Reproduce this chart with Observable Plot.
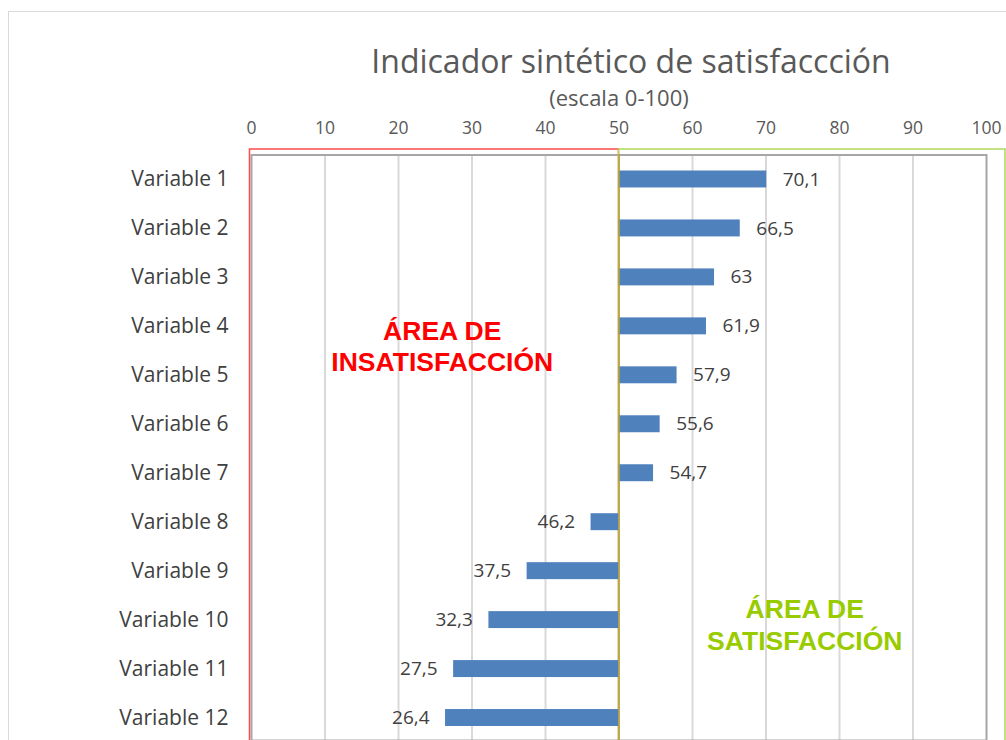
<!DOCTYPE html>
<html>
<head>
<meta charset="utf-8">
<script src="https://cdn.jsdelivr.net/npm/d3@7"></script>
<script src="https://cdn.jsdelivr.net/npm/@observablehq/plot@0.6"></script>
<style>
  html, body { margin: 0; padding: 0; background: #fff; }
  body { width: 1006px; height: 740px; overflow: hidden; position: relative; font-family: "Open Sans", sans-serif; }
  #border { position: absolute; left: 8px; top: 11px; width: 1100px; height: 800px; border: 1px solid #d9d9d9; }
  #title { position: absolute; left: 131px; top: 37px; width: 1000px; text-align: center; font-size: 32px; line-height: 48px; color: #595959; }
  #subtitle { position: absolute; left: 119px; top: 81px; width: 1000px; text-align: center; font-size: 22px; line-height: 32px; color: #595959; }
  #chart { position: absolute; left: 0; top: 110px; }
</style>
</head>
<body>
<div id="border"></div>
<div id="title">Indicador sintético de satisfaccción</div>
<div id="subtitle">(escala 0-100)</div>
<div id="chart"></div>
<script>
const variables = ["Variable 1","Variable 2","Variable 3","Variable 4","Variable 5","Variable 6","Variable 7","Variable 8","Variable 9","Variable 10","Variable 11","Variable 12"];
const values = [70.1, 66.5, 63, 61.9, 57.9, 55.6, 54.7, 46.2, 37.5, 32.3, 27.5, 26.4];
const xTicks = [0, 10, 20, 30, 40, 50, 60, 70, 80, 90, 100];
const baseline = 50;
const areaNames = ["ÁREA DE\nINSATISFACCIÓN", "ÁREA DE\nSATISFACCIÓN"];
const areaFrom = [0, 50];
const areaTo = [50, 100];
const areaRows = ["Variable 4", "Variable 10"];

const data = variables.map((name, i) => ({name, value: values[i]}));
const areas = areaNames.map((label, i) => ({label, from: areaFrom[i], to: areaTo[i], row: areaRows[i]}));
const fmt = v => String(v).replace(".", ",");

const chart = Plot.plot({
  width: 1006,
  height: 630,
  marginTop: 44.5,
  marginLeft: 251,
  marginRight: 20,
  marginBottom: 0,
  style: {fontFamily: "'Open Sans', sans-serif", background: "transparent", overflow: "visible"},
  x: {domain: [0, 100], range: [251, 986], label: null},
  y: {domain: variables, range: [44.5, 632], padding: 0, round: false, label: null},
  marks: [
    Plot.gridX(xTicks.filter(t => t > 0 && t < 100), {stroke: "#d9d9d9", strokeOpacity: 1, strokeWidth: 2}),
    Plot.frame({stroke: "#a6a6a6", strokeWidth: 2}),
    Plot.rect([areas[0]], {x1: "from", x2: "to", fill: "none", stroke: "#ff4a4a", strokeWidth: 1.5, insetTop: -5.5, insetBottom: -30, insetLeft: -1.5}),
    Plot.rect([areas[1]], {x1: "from", x2: "to", fill: "none", stroke: "#b0d65a", strokeWidth: 1.5, insetTop: -5.5, insetBottom: -30, insetRight: -19}),
    Plot.barX(data, {x1: baseline, x2: "value", y: "name", fill: "#4f81bd", insetTop: 16, insetBottom: 16}),
    Plot.ruleX([baseline], {stroke: "#b8a13a", strokeWidth: 1.5}),
    Plot.text(data.filter(d => d.value >= baseline), {x: "value", y: "name", text: d => fmt(d.value), textAnchor: "start", dx: 16, fill: "#404040", fontSize: 19}),
    Plot.text(data.filter(d => d.value < baseline), {x: "value", y: "name", text: d => fmt(d.value), textAnchor: "end", dx: -16, fill: "#404040", fontSize: 19}),
    Plot.text([areas[0]], {x: d => (d.from + d.to) / 2, y: "row", text: "label", dx: 7, dy: 19, fill: "#ff0000", fontSize: 26.5, fontWeight: "bold", fontFamily: "'Liberation Sans', Arial, sans-serif", lineHeight: 1.18}),
    Plot.text([areas[1]], {x: d => (d.from + d.to) / 2, y: "row", text: "label", dx: 2, dy: 4, fill: "#99cc00", fontSize: 26.5, fontWeight: "bold", fontFamily: "'Liberation Sans', Arial, sans-serif", lineHeight: 1.18}),
    Plot.axisX({ticks: xTicks, anchor: "top", tickSize: 0, tickPadding: 21, fontSize: 17.5, fill: "#595959", label: null}),
    Plot.axisY({tickSize: 0, tickPadding: 23, fontSize: 21, fill: "#404040", label: null})
  ]
});
document.getElementById("chart").appendChild(chart);
</script>
</body>
</html>
